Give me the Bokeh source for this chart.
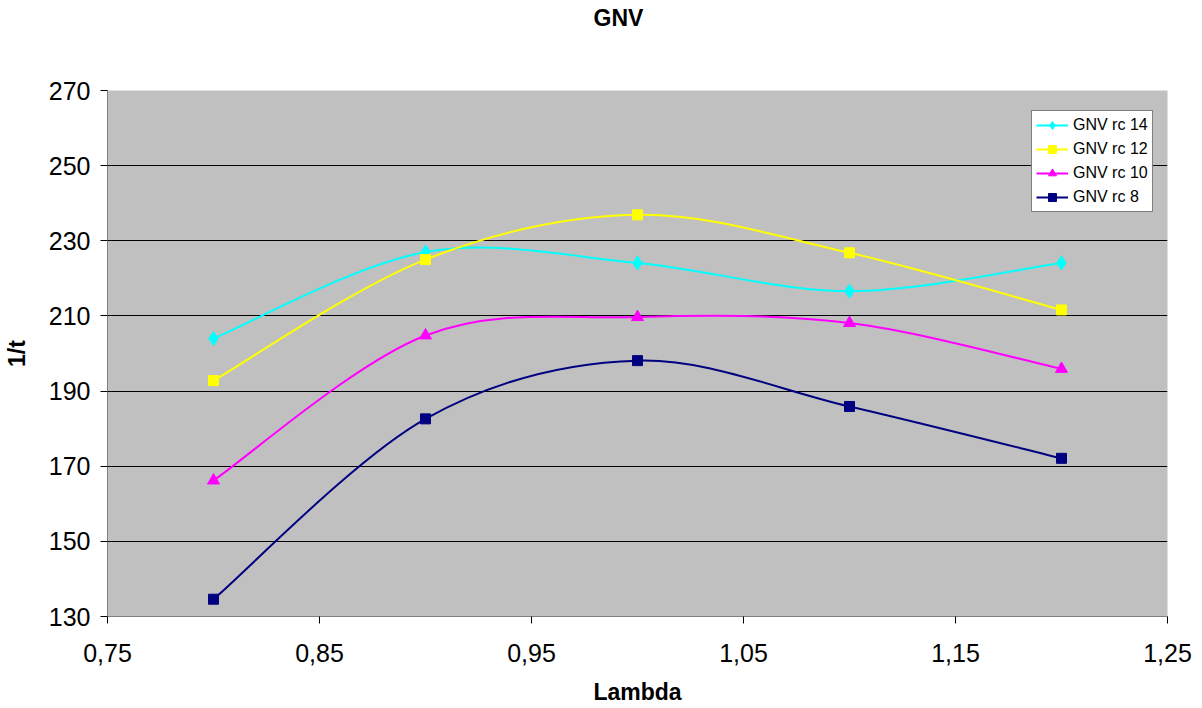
from bokeh.plotting import figure
from bokeh.models import FixedTicker, Legend, LegendItem, ColumnDataSource, Title
from bokeh.embed import file_html
from bokeh.resources import INLINE

# ---- data ----
lam = [0.8, 0.9, 1.0, 1.1, 1.2]
rc14 = [204.0, 227.0, 224.1, 216.6, 224.1]
rc12 = [192.8, 225.0, 236.9, 226.8, 211.6]
rc10 = [166.2, 204.8, 209.7, 208.1, 195.9]
rc8 = [134.6, 182.6, 198.1, 185.9, 172.1]

series_names = ["GNV rc 14", "GNV rc 12", "GNV rc 10", "GNV rc 8"]
series_values = [rc14, rc12, rc10, rc8]
series_colors = ["#00FFFF", "#FFFF00", "#FF00FF", "#000080"]
series_markers = ["diamond", "square", "triangle", "square"]
marker_sizes = [14, 10, 12, 10]

x_ticks = [0.75, 0.85, 0.95, 1.05, 1.15, 1.25]
x_tick_labels = ["0,75", "0,85", "0,95", "1,05", "1,15", "1,25"]
y_ticks = [130, 150, 170, 190, 210, 230, 250, 270]

FONT = "Liberation Sans"

p = figure(width=1202, height=708, output_backend="svg", toolbar_location=None,
           x_range=(0.75, 1.25), y_range=(130, 270),
           min_border_left=107, min_border_right=35, min_border_top=90, min_border_bottom=92)
p.title = None

# spacer (closest to the frame) then the real title above it
p.add_layout(Title(text=" ", text_font_size="1px", standoff=57), "above")
p.add_layout(Title(text="GNV", align="left", offset=486, standoff=0,
                   text_font=FONT, text_font_size="23px", text_font_style="bold",
                   text_color="#000000"), "above")

p.background_fill_color = "#C0C0C0"
p.border_fill_color = "#FFFFFF"
p.outline_line_color = None

p.xgrid.grid_line_color = None
p.ygrid.grid_line_color = "#000000"
p.ygrid.grid_line_width = 1

p.xaxis.ticker = FixedTicker(ticks=x_ticks)
p.xaxis.major_label_overrides = {t: l for t, l in zip(x_ticks, x_tick_labels)}
p.yaxis.ticker = FixedTicker(ticks=y_ticks)

for ax in (p.xaxis, p.yaxis):
    ax.minor_tick_line_color = None
    ax.major_tick_in = 0
    ax.major_tick_out = 7
    ax.major_tick_line_color = "#000000"
    ax.axis_line_color = "#808080"
    ax.major_label_text_font = FONT
    ax.major_label_text_font_size = "25px"
    ax.major_label_text_color = "#000000"
    ax.axis_label_text_font = FONT
    ax.axis_label_text_font_size = "23px"
    ax.axis_label_text_font_style = "bold"
    ax.axis_label_text_color = "#000000"

p.xaxis.axis_label = "Lambda"
p.yaxis.axis_label = "1/t"
p.xaxis.major_label_standoff = 20
p.xaxis.axis_label_standoff = 14
p.yaxis.major_label_standoff = 10
p.yaxis.axis_label_standoff = 16


def smooth_segments(xs, ys):
    """Excel-style smoothed line: cubic Bezier segments through the points."""
    n = len(xs)
    x0, y0, x1, y1, cx0, cy0, cx1, cy1 = [], [], [], [], [], [], [], []
    for i in range(n - 1):
        ip = max(i - 1, 0)
        inx = min(i + 2, n - 1)
        x0.append(xs[i]); y0.append(ys[i])
        x1.append(xs[i + 1]); y1.append(ys[i + 1])
        cx0.append(xs[i] + (xs[i + 1] - xs[ip]) / 6.0)
        cy0.append(ys[i] + (ys[i + 1] - ys[ip]) / 6.0)
        cx1.append(xs[i + 1] - (xs[inx] - xs[i]) / 6.0)
        cy1.append(ys[i + 1] - (ys[inx] - ys[i]) / 6.0)
    return dict(x0=x0, y0=y0, x1=x1, y1=y1, cx0=cx0, cy0=cy0, cx1=cx1, cy1=cy1)


nan = float("nan")
items = []
for name, vals, col, mk, ms in zip(series_names, series_values, series_colors,
                                   series_markers, marker_sizes):
    src = ColumnDataSource(smooth_segments(lam, vals))
    p.bezier(x0="x0", y0="y0", x1="x1", y1="y1", cx0="cx0", cy0="cy0",
             cx1="cx1", cy1="cy1", source=src, line_color=col, line_width=2)
    # legend-only line sample (draws nothing in the plot area)
    leg_line = p.line(x=[nan], y=[nan], line_color=col, line_width=2)
    sc = p.scatter(x=lam, y=vals, marker=mk, size=ms, fill_color=col,
                   line_color=col, line_width=1)
    items.append(LegendItem(label=name, renderers=[leg_line, sc]))

legend = Legend(items=items, location=(924, 404), orientation="vertical",
                glyph_width=32, glyph_height=20, label_height=20,
                label_standoff=5, spacing=4, padding=4, margin=0,
                label_text_font=FONT, label_text_font_size="16px",
                label_text_color="#000000",
                border_line_color="#000000", border_line_width=1,
                background_fill_color="#FFFFFF", background_fill_alpha=1.0)
p.add_layout(legend, "center")

open("out.html", "w").write(file_html(p, INLINE))
